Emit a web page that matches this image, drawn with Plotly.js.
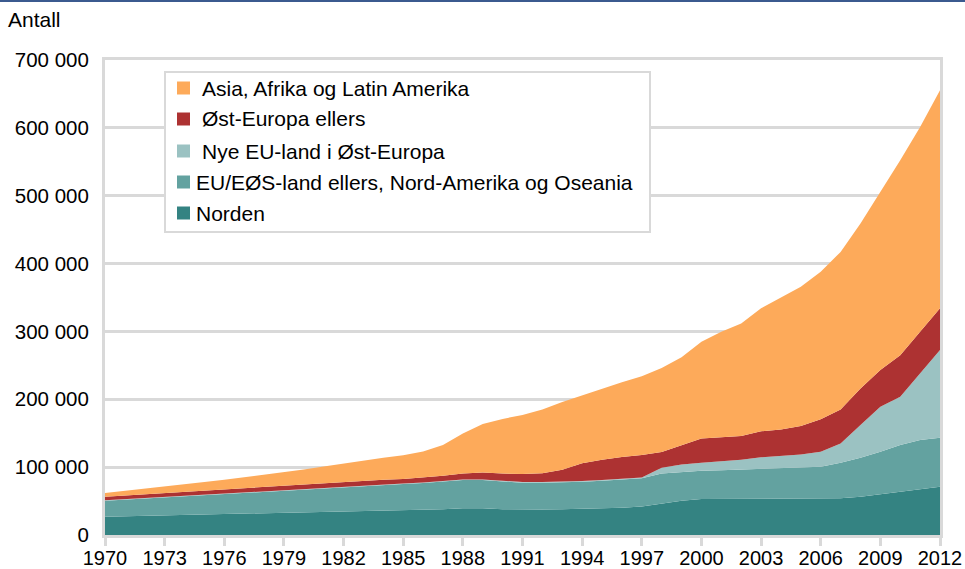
<!DOCTYPE html>
<html>
<head>
<meta charset="utf-8">
<script src="https://cdn.plot.ly/plotly-3.0.1.min.js"></script>
<style>
html,body{margin:0;padding:0;background:#fff;}
#topline{position:absolute;left:0;top:0;width:965px;height:2px;background:#3b5a8f;z-index:10;}
#chart{width:965px;height:569px;}
</style>
</head>
<body>
<div id="topline"></div>
<div id="chart"></div>
<script>
const years = [];
for (let y = 1970; y <= 2012; y++) years.push(y);

const seriesNames = [
  "Norden",
  "EU/EØS-land ellers, Nord-Amerika og Oseania",
  "Nye EU-land i Øst-Europa",
  "Øst-Europa ellers",
  "Asia, Afrika og Latin Amerika"
];

const norden = [27000,27600,28200,28800,29400,30000,30600,31200,31800,32400,33000,33600,34300,34800,35300,35800,36800,38000,39300,39500,38000,37500,37700,38000,38500,39300,40300,42000,46500,50500,53000,53200,53300,53500,53500,53300,53300,54000,56500,60000,64000,68000,71000];

const euEos = [23500,24600,25700,26800,27900,29000,30100,31200,32200,33200,34300,35400,36700,37700,38700,39200,39700,40500,41700,41500,40500,39500,39300,39500,40000,40700,41200,41500,44300,42700,41700,42300,43200,44500,45000,45700,47300,52500,57500,62700,68500,72000,72300];

const nyeEu = [800,800,800,800,800,800,800,800,800,800,800,800,800,800,800,800,800,800,800,800,1200,1200,1200,1200,1200,1200,1200,1200,8200,10800,11800,13000,14500,16400,18000,19500,22100,28500,48000,66300,71200,98000,129200];

const ostEuropa = [5100,5200,5300,5400,5400,5400,5400,5400,5500,5600,5900,6200,6700,6700,6700,6700,7200,8200,9000,10200,10800,11600,12800,17300,25900,29800,32300,33100,23500,28000,35800,35500,35000,38500,39000,42000,47700,50000,54000,54000,61300,61400,61500];

const asiaAfrika = [5600,6800,8000,9200,11000,12800,14600,16400,18200,20500,22500,25000,27100,30000,32500,35000,38500,45000,58900,71500,80500,87200,94000,100000,100400,104500,110000,116200,123500,130000,142400,155400,165800,181100,194500,205200,217400,232200,243000,262600,287300,301900,321400];

const yTickVals = [0,100000,200000,300000,400000,500000,600000,700000];

const colors = ["#348382","#63a2a0","#9bc2c2","#ad3232","#fdaa5a"];
const values = [norden, euEos, nyeEu, ostEuropa, asiaAfrika];

const traces = values.map((v, i) => ({
  type: "scatter", mode: "lines", x: years, y: v, name: seriesNames[i],
  stackgroup: "one", fillcolor: colors[i],
  line: {width: 0, color: colors[i]},
  showlegend: false, hoverinfo: "skip"
}));

// Manual legend (layout decoration), in pixel -> paper coordinates
const L = 105, R = 940, T = 60, B = 535;
const px = x => (x - L) / (R - L);
const py = y => (B - y) / (B - T);

const shapes = [{
  type: "rect", xref: "paper", yref: "paper",
  x0: px(165), x1: px(650), y0: py(232), y1: py(72),
  fillcolor: "#fff", line: {color: "#d9d9d9", width: 2}, layer: "above"
}];
const annotations = [{
  text: "Antall", xref: "paper", yref: "paper",
  x: px(6), y: py(20), xanchor: "left", yanchor: "middle",
  showarrow: false, font: {size: 21}
}];

const legendOrder = [4, 3, 2, 1, 0];
const legendRowY = [88, 119, 151, 182, 213];
const legendTextX = [200, 200, 200, 194, 194];
legendOrder.forEach((si, r) => {
  const cy = legendRowY[r];
  shapes.push({
    type: "rect", xref: "paper", yref: "paper",
    x0: px(177), x1: px(190), y0: py(cy + 6.5), y1: py(cy - 6.5),
    fillcolor: colors[si], line: {width: 0}, layer: "above"
  });
  annotations.push({
    text: seriesNames[si], xref: "paper", yref: "paper",
    x: px(legendTextX[r]), y: py(cy), xanchor: "left", yanchor: "middle",
    showarrow: false, font: {size: 21}
  });
});

const layout = {
  width: 965, height: 569,
  margin: {l: L, r: 965 - R, t: T, b: 569 - B},
  paper_bgcolor: "#fff", plot_bgcolor: "#fff",
  separators: ", ",
  font: {family: "Liberation Sans, Arial, sans-serif", size: 20, color: "#000"},
  showlegend: false,
  xaxis: {
    type: "linear", range: [1970, 2012], tick0: 1970, dtick: 3,
    showgrid: false, zeroline: false,
    showline: true, linecolor: "#d9d9d9", linewidth: 3, mirror: true,
    ticks: "outside", ticklen: 8, tickwidth: 3, tickcolor: "#d9d9d9",
    tickfont: {size: 20}, ticklabelstandoff: -5
  },
  yaxis: {
    range: [0, 700000], tickvals: yTickVals, tickformat: ",d",
    showgrid: true, gridcolor: "#d9d9d9", gridwidth: 3, zeroline: false,
    showline: true, linecolor: "#d9d9d9", linewidth: 3, mirror: true,
    ticks: "", tickfont: {size: 20.5}, ticklabelstandoff: 9
  },
  shapes: shapes,
  annotations: annotations
};

Plotly.newPlot("chart", traces, layout, {displayModeBar: false, staticPlot: true});
</script>
</body>
</html>
